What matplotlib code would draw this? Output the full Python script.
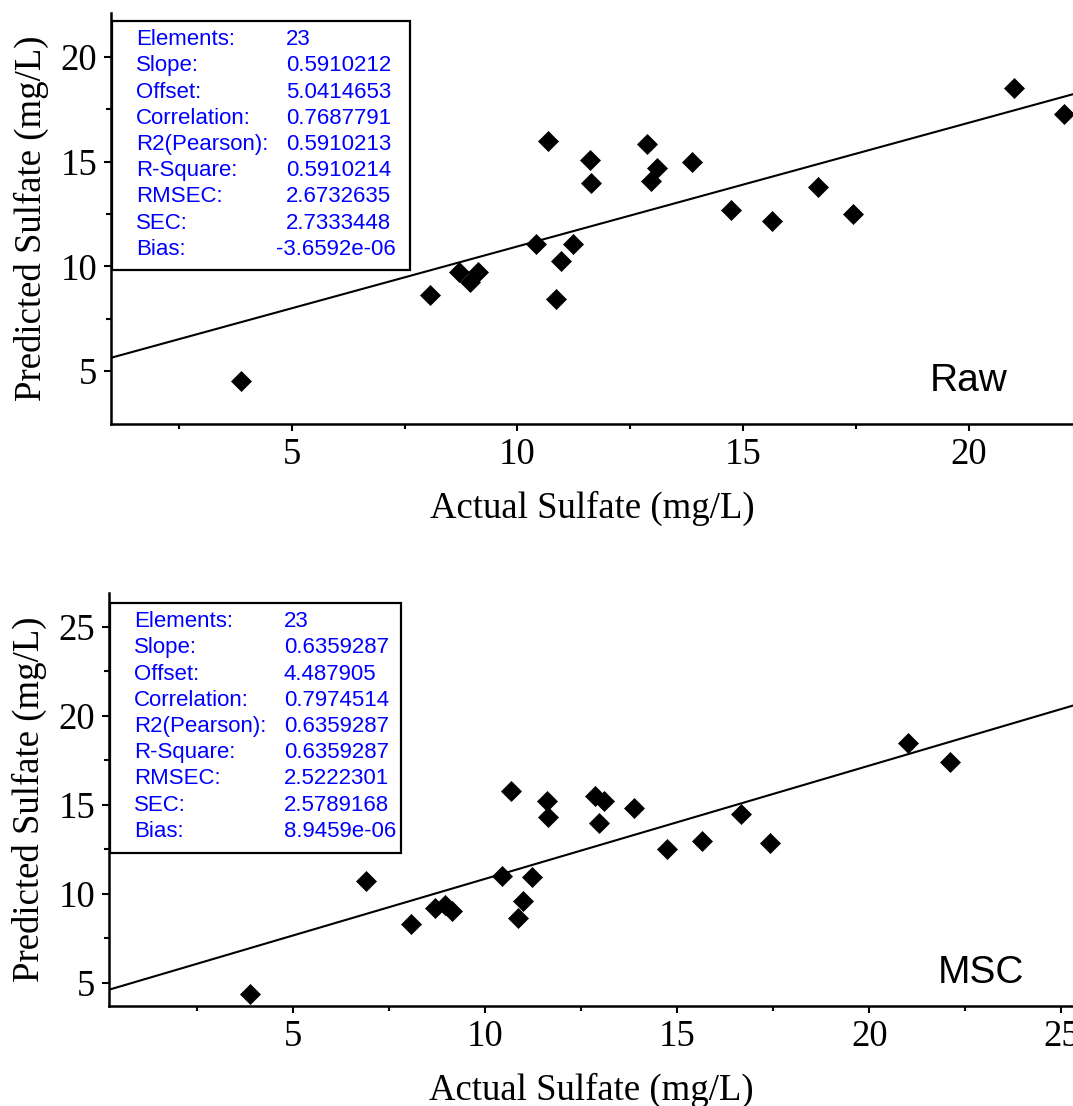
import matplotlib.pyplot as plt
from matplotlib.patches import Rectangle
from matplotlib.ticker import FixedLocator
import numpy as np

W, H = 1073, 1106

# Actual sulfate (mg/L), shared by both panels
actual = [3.87, 6.89, 8.06, 8.70, 8.95, 9.13, 10.42, 10.68, 10.86, 10.97, 11.22, 11.60,
          11.63, 12.86, 12.96, 13.08, 13.86, 14.72, 15.64, 16.65, 17.42, 21.00, 22.09]

# Predicted sulfate, raw spectra (point at 6.89 sits behind the stats box)
pred_raw = [4.54, 10.60, 8.63, 9.71, 9.26, 9.71, 11.06, 15.97, 8.42, 10.25, 11.06, 15.07,
            13.98, 15.82, 14.06, 14.70, 14.99, 12.68, 12.16, 13.79, 12.52, 18.52, 17.26]

# Predicted sulfate, MSC-corrected spectra
pred_msc = [4.38, 10.73, 8.30, 9.20, 9.38, 9.04, 11.03, 15.79, 8.67, 9.62, 10.92, 15.22,
            14.29, 15.47, 13.97, 15.22, 14.81, 12.53, 12.98, 14.49, 12.85, 18.47, 17.38]

stat_names = ['Elements:', 'Slope:', 'Offset:', 'Correlation:', 'R2(Pearson):',
              'R-Square:', 'RMSEC:', 'SEC:', 'Bias:']
stats_raw = ['23', '0.5910212', '5.0414653', '0.7687791', '0.5910213',
             '0.5910214', '2.6732635', '2.7333448', '-3.6592e-06']
stats_msc = ['23', '0.6359287', '4.487905', '0.7974514', '0.6359287',
             '0.6359287', '2.5222301', '2.5789168', '8.9459e-06']
slope_raw, offset_raw = 0.5910212, 5.0414653
slope_msc, offset_msc = 0.6359287, 4.487905


def fx(px):
    return px / W


def fy(py):
    return 1 - py / H


fig = plt.figure(figsize=(W / 100, H / 100), dpi=100)
fig.patch.set_facecolor('white')

serif = 'Liberation Serif'
sans = 'Liberation Sans'


def make_panel(rect, x, y, slope, offset, xlim, ylim, xmaj, xmin, ymaj, ymin,
               box, names, vals, bias_shift, tag, tag_xy):
    ax = fig.add_axes(rect)
    ax.set_xlim(*xlim)
    ax.set_ylim(*ylim)
    for s in ['top', 'right']:
        ax.spines[s].set_visible(False)
    for s in ['left', 'bottom']:
        ax.spines[s].set_linewidth(1.8)
    ax.xaxis.set_major_locator(FixedLocator(xmaj))
    ax.xaxis.set_minor_locator(FixedLocator(xmin))
    ax.yaxis.set_major_locator(FixedLocator(ymaj))
    ax.yaxis.set_minor_locator(FixedLocator(ymin))
    ax.tick_params(which='major', direction='out', length=5, width=1.5, pad=5,
                   labelsize=26.5, labelfontfamily=serif)
    ax.tick_params(which='minor', direction='out', length=3.5, width=1.5)
    ax.set_xlabel('Actual Sulfate (mg/L)', fontfamily=serif, fontsize=26.5, labelpad=13)
    ax.set_ylabel('Predicted Sulfate (mg/L)', fontfamily=serif, fontsize=26.5, labelpad=8)

    xs = np.array(xlim)
    ax.plot(xs, slope * xs + offset, color='black', lw=1.5, zorder=2)
    ax.plot(x, y, linestyle='none', marker='D', ms=10, color='black',
            markeredgewidth=0.5, zorder=3, clip_on=False)

    # stats box (pixels -> figure fraction)
    bx0, by0, bx1, by1 = box
    ax.add_patch(Rectangle((fx(bx0), fy(by1)), fx(bx1) - fx(bx0), fy(by0) - fy(by1),
                           transform=fig.transFigure, facecolor='white',
                           edgecolor='black', lw=1.6, zorder=5, clip_on=False))
    for i, (n, v) in enumerate(zip(names, vals)):
        ty = by0 + 18.5 + i * 26.25
        ax.text(fx(bx0 + 24), fy(ty), n, transform=fig.transFigure, color='#0000ff',
                fontfamily=sans, fontsize=16, va='center', ha='left', zorder=6)
        vx = bx0 + 174 - (bias_shift if v.startswith('-') else 0)
        ax.text(fx(vx), fy(ty), v, transform=fig.transFigure, color='#0000ff',
                fontfamily=sans, fontsize=16, va='center', ha='left', zorder=6)

    ax.text(fx(tag_xy[0]), fy(tag_xy[1]), tag, transform=fig.transFigure,
            fontfamily=sans, fontsize=28, ha='left', va='baseline')
    return ax


make_panel([fx(111), fy(424), fx(1073) - fx(111), fy(13) - fy(424)],
           actual, pred_raw, slope_raw, offset_raw, (1.0, 22.3), (2.47, 22.1),
           [5, 10, 15, 20], [2.5, 7.5, 12.5, 17.5], [5, 10, 15, 20], [7.5, 12.5, 17.5],
           (112, 21, 410, 270), stat_names, stats_raw, 10, 'Raw', (930, 391))

make_panel([fx(109), fy(1006), fx(1073) - fx(109), fy(593) - fy(1006)],
           actual, pred_msc, slope_msc, offset_msc, (0.2, 25.3), (3.7, 26.9),
           [5, 10, 15, 20, 25], [2.5, 7.5, 12.5, 17.5, 22.5], [5, 10, 15, 20, 25],
           [7.5, 12.5, 17.5, 22.5],
           (110, 603, 401, 853), stat_names, stats_msc, 10, 'MSC', (938, 983))

plt.savefig('out.png', dpi=100, facecolor='white')
plt.close(fig)
